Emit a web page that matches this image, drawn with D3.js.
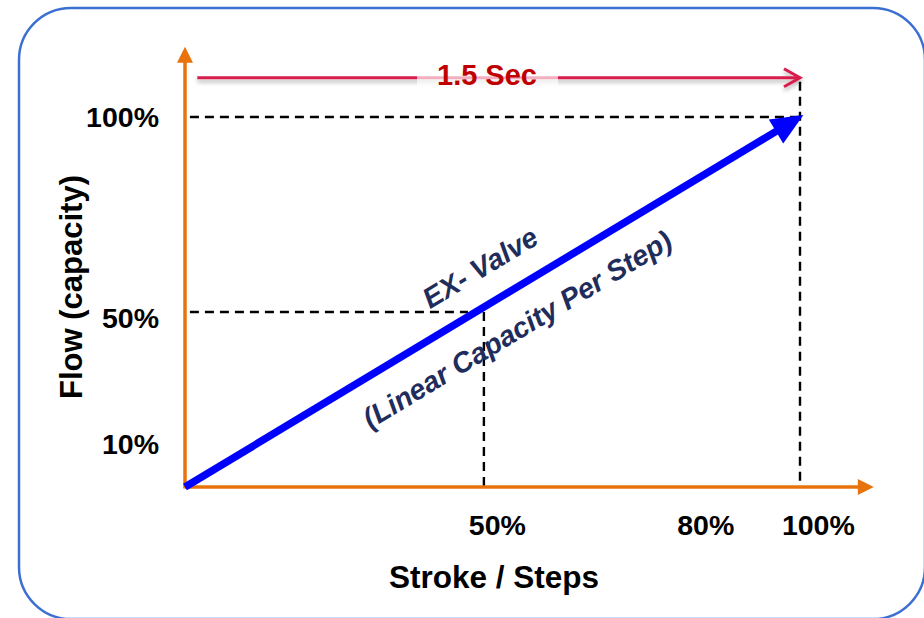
<!DOCTYPE html>
<html>
<head>
<meta charset="utf-8">
<script src="https://cdn.jsdelivr.net/npm/d3@7"></script>
<style>
  body { margin: 0; background: #fff; }
  text { font-family: 'Liberation Sans', Arial, sans-serif; font-weight: bold; }
</style>
</head>
<body>
<div id="root"></div>
<script>
// Valve characteristic (percent of stroke -> percent of flow).
const strokePct = [0, 100];
const flowPct = [0, 100];

// Tick labels and where they sit (in percent units).
const xTickText = ['50%', '80%', '100%'];
const xTickAt = [50.7, 84.6, 102.9];
const yTickText = ['10%', '50%', '100%'];
const yTickAt = [11.6, 45.7, 100];

// Dashed guide lines: [x, y, x where the horizontal part stops].
const guideFull = [100, 100, 100];
const guideHalf = [48.6, 47.3, 46];

// Timing bar over the chart.
const timeLabel = '1.5 Sec';
const timeSpan = [2, 100];
const timeLevel = 110.6;

const width = 924;
const height = 618;

const x = d3.scaleLinear().domain([0, 100]).range([185, 800]);
const y = d3.scaleLinear().domain([0, 100]).range([487, 117]);

const svg = d3.select('#root')
  .append('svg')
  .attr('width', width)
  .attr('height', height);

const defs = svg.append('defs');
const shadow = defs.append('filter').attr('id', 'shadow')
  .attr('x', '-5%').attr('y', '-100%').attr('width', '110%').attr('height', '300%');
shadow.append('feDropShadow')
  .attr('dx', 0).attr('dy', 3).attr('stdDeviation', 2)
  .attr('flood-color', '#000').attr('flood-opacity', 0.3);

// Rounded frame.
svg.append('rect')
  .attr('x', 19).attr('y', 8)
  .attr('width', 906).attr('height', 611)
  .attr('rx', 52)
  .attr('fill', 'none')
  .attr('stroke', '#3b6fd2')
  .attr('stroke-width', 2.5);

// Dashed guides.
const dash = '9,6';
function guide(g) {
  svg.append('path')
    .attr('d', `M${x(0.8)},${y(g[1])}H${x(g[2])}`)
    .attr('stroke', '#000').attr('stroke-width', 2.4)
    .attr('stroke-dasharray', dash).attr('fill', 'none');
}
guide(guideFull);
guide(guideHalf);
svg.append('path')
  .attr('d', `M${x(guideFull[0])},${y(timeLevel) + 4}V${y(0)}`)
  .attr('stroke', '#000').attr('stroke-width', 2.4)
  .attr('stroke-dasharray', dash).attr('fill', 'none');
svg.append('path')
  .attr('d', `M${x(guideHalf[0])},${y(guideHalf[1])}V${y(0)}`)
  .attr('stroke', '#000').attr('stroke-width', 2.4)
  .attr('stroke-dasharray', dash).attr('fill', 'none');

// Orange axes with arrow heads.
const orange = '#e8720c';
const xEnd = x(112);
const yEnd = y(119);
svg.append('line')
  .attr('x1', x(0)).attr('y1', y(0)).attr('x2', xEnd - 14).attr('y2', y(0))
  .attr('stroke', orange).attr('stroke-width', 3.5);
svg.append('path')
  .attr('d', `M${xEnd},${y(0)}L${xEnd - 16},${y(0) - 8}L${xEnd - 16},${y(0) + 8}Z`)
  .attr('fill', orange);
svg.append('line')
  .attr('x1', x(0)).attr('y1', y(0) + 1.5).attr('x2', x(0)).attr('y2', yEnd + 14)
  .attr('stroke', orange).attr('stroke-width', 3.5);
svg.append('path')
  .attr('d', `M${x(0)},${yEnd}L${x(0) - 8},${yEnd + 16}L${x(0) + 8},${yEnd + 16}Z`)
  .attr('fill', orange);

// Tick labels through the axes.
const xAxis = d3.axisBottom(x)
  .tickValues(xTickAt)
  .tickSize(0)
  .tickPadding(28)
  .tickFormat((d, i) => xTickText[i]);
const yAxis = d3.axisLeft(y)
  .tickValues(yTickAt)
  .tickSize(0)
  .tickPadding(26)
  .tickFormat((d, i) => yTickText[i]);

svg.append('g')
  .attr('transform', `translate(0,${y(0)})`)
  .call(xAxis)
  .call(g => g.select('.domain').remove())
  .selectAll('text')
  .attr('font-family', "'Liberation Sans', Arial, sans-serif")
  .attr('font-weight', 'bold')
  .attr('font-size', 28.5)
  .attr('fill', '#000');

svg.append('g')
  .attr('transform', `translate(${x(0)},0)`)
  .call(yAxis)
  .call(g => g.select('.domain').remove())
  .selectAll('text')
  .attr('font-family', "'Liberation Sans', Arial, sans-serif")
  .attr('font-weight', 'bold')
  .attr('font-size', 28.5)
  .attr('fill', '#000');

// Axis titles.
svg.append('text')
  .attr('x', 494)
  .attr('y', 588)
  .attr('text-anchor', 'middle')
  .attr('font-size', 31.5)
  .attr('fill', '#000')
  .text('Stroke / Steps');

svg.append('text')
  .attr('transform', 'translate(71,287) rotate(-90)')
  .attr('text-anchor', 'middle')
  .attr('dy', '0.35em')
  .attr('font-size', 31)
  .attr('fill', '#000')
  .text('Flow (capacity)');

// Timing bar.
const red = '#d81e4c';
const tY = y(timeLevel);
const tX1 = x(timeSpan[0]);
const tX2 = x(timeSpan[1]);
const timeG = svg.append('g').attr('filter', 'url(#shadow)');
timeG.append('line')
  .attr('x1', tX1).attr('y1', tY).attr('x2', tX2 - 1).attr('y2', tY)
  .attr('stroke', red).attr('stroke-width', 3);
timeG.append('path')
  .attr('d', `M${tX2 - 16},${tY - 9}L${tX2},${tY}L${tX2 - 16},${tY + 9}`)
  .attr('fill', 'none').attr('stroke', red).attr('stroke-width', 3)
  .attr('stroke-linejoin', 'miter');
svg.append('rect')
  .attr('x', 417).attr('y', tY - 10)
  .attr('width', 141).attr('height', 18)
  .attr('fill', '#fff').attr('opacity', 0.65);
svg.append('text')
  .attr('x', 487)
  .attr('y', tY + 7)
  .attr('text-anchor', 'middle')
  .attr('font-size', 29)
  .attr('fill', '#c00000')
  .text(timeLabel);

// Blue valve characteristic arrow.
const blue = '#0000ff';
const x0 = x(strokePct[0]), y0 = y(flowPct[0]);
const x1 = x(strokePct[1]), y1 = y(flowPct[1]);
const ang = Math.atan2(y1 - y0, x1 - x0);
const ux = Math.cos(ang), uy = Math.sin(ang);
const tipX = x1 + ux * 4, tipY = y1 + uy * 4;
const headLen = 32, headHalf = 14;
const bx = tipX - ux * headLen, by = tipY - uy * headLen;

svg.append('line')
  .attr('x1', x0).attr('y1', y0)
  .attr('x2', bx + ux * 2).attr('y2', by + uy * 2)
  .attr('stroke', blue).attr('stroke-width', 7.5);
svg.append('path')
  .attr('d', `M${tipX},${tipY}L${bx - uy * headHalf},${by + ux * headHalf}L${bx + uy * headHalf},${by - ux * headHalf}Z`)
  .attr('fill', blue);

// Labels along the arrow.
const mid = 51;
const deg = ang * 180 / Math.PI;
const lbl = svg.append('g')
  .attr('transform', `translate(${x(mid)},${y(mid)}) rotate(${deg})`);
lbl.append('text')
  .attr('y', -36)
  .attr('dy', '0.35em')
  .attr('text-anchor', 'middle')
  .attr('font-style', 'italic')
  .attr('font-size', 28.5)
  .attr('fill', '#1f2d5c')
  .text('EX- Valve');
lbl.append('text')
  .attr('y', 36)
  .attr('dy', '0.35em')
  .attr('text-anchor', 'middle')
  .attr('font-style', 'italic')
  .attr('font-size', 28.5)
  .attr('fill', '#1f2d5c')
  .text('(Linear Capacity Per Step)');
</script>
</body>
</html>
